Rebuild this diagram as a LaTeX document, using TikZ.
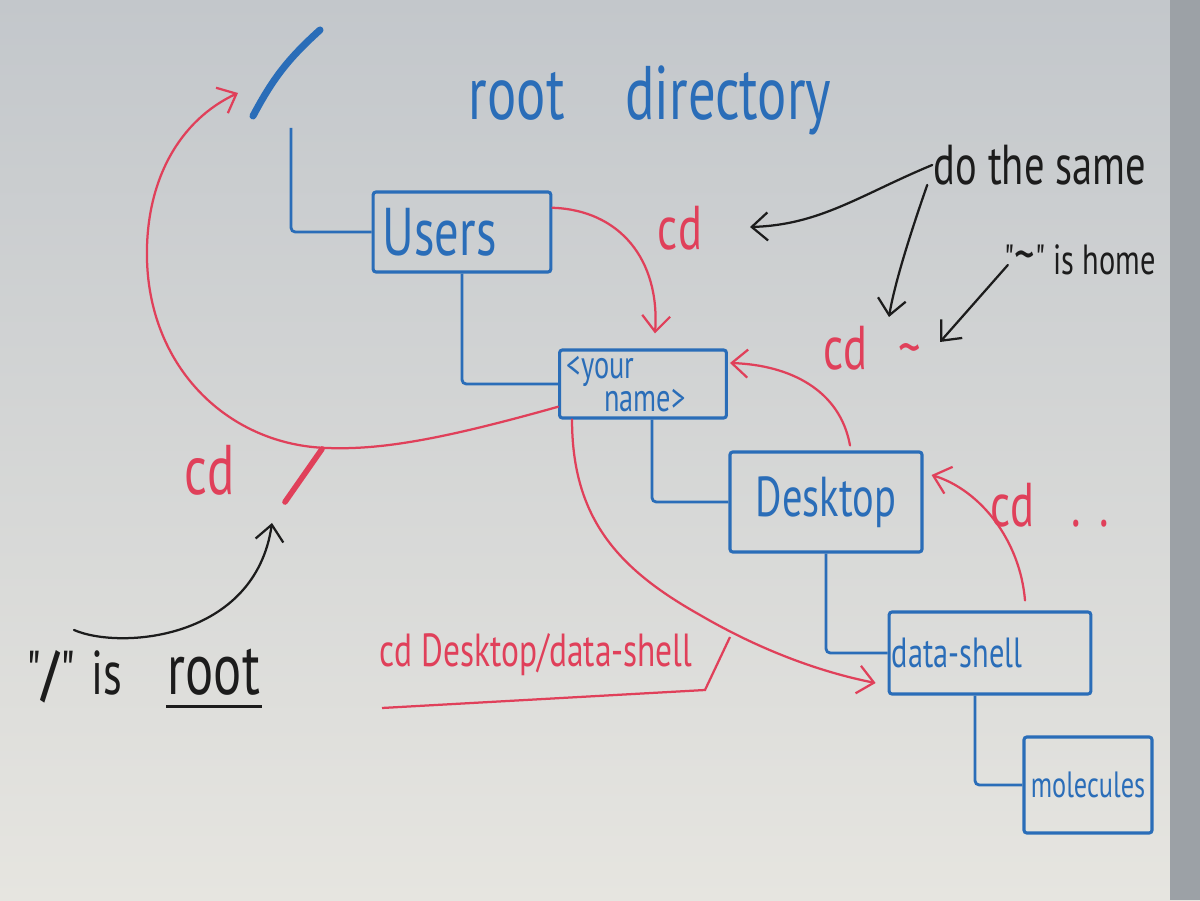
\documentclass[tikz,border=0pt]{standalone}
\usepackage{fontspec}
\newfontfamily\hand{PT Sans}[FakeStretch=0.72]
\usetikzlibrary{calc,arrows.meta}
\definecolor{boardx}{HTML}{C3C7CB}
\definecolor{boardlo}{HTML}{E6E5E0}
\definecolor{framex}{HTML}{9CA1A6}
\definecolor{bluex}{HTML}{2A6DB8}
\definecolor{redx}{HTML}{E0405A}
\definecolor{inkx}{HTML}{1C1C1C}
\tikzset{
  box/.style={draw=bluex,line width=2.2pt,rounded corners=2pt,text=bluex,align=center,inner sep=2pt},
  tree/.style={bluex,line width=2pt,rounded corners=3pt},
  ar/.style={-{Straight Barb[length=4mm,width=7mm]},line width=1.6pt,line cap=round},
  rar/.style={ar,redx},
  kar/.style={ar,inkx},
  rtxt/.style={text=redx,font=\hand\fontsize{44}{48}\selectfont,inner sep=1pt},
  ktxt/.style={text=inkx,inner sep=1pt}
}

\begin{document}
\begin{tikzpicture}[x=0.025cm,y=0.025cm]
\shade[top color=boardx,bottom color=boardlo] (0,0) rectangle (1200,900);
\fill[framex] (1170,0) rectangle (1200,900);
\useasboundingbox (0,0) rectangle (1200,900);

% the tree
\coordinate (rootlo) at (253,784);
\coordinate (roothi) at (320,870);
\coordinate (rootL) at (291,772);
\draw[bluex,line width=5pt,line cap=round] (rootlo) to[bend left=10] (roothi);
\node[font=\hand\fontsize{54}{58}\selectfont,text=bluex] (rootdir) at (650,800) {root\hspace{0.8em}directory};

\node[box,text width=4.3cm,align=left,minimum height=2cm,font=\hand\fontsize{48}{52}\selectfont] (users) at (462,668) {\hspace{0.1em}Users};
\node[box,text width=4.1cm,align=left,minimum height=1.7cm,inner sep=1pt,font=\hand\fontsize{28}{23}\selectfont] (yourname) at (643,516) {\hspace{0.15em}<your\\\hspace{1.1em}name>};
\node[box,minimum width=4.8cm,minimum height=2.5cm,font=\hand\fontsize{40}{44}\selectfont] (desktop) at (826,398) {Desktop};
\node[box,text width=4.9cm,align=left,minimum height=2.05cm,font=\hand\fontsize{30}{34}\selectfont] (datashell) at (990,247) {data-shell};
\node[box,minimum width=3.2cm,minimum height=2.4cm,font=\hand\fontsize{26}{30}\selectfont] (molecules) at (1088,115) {molecules};

\draw[tree] (rootL) |- (users.west);
\draw[tree] (users.south) |- (yourname.west);
\draw[tree] ($(yourname.south)+(9,0)$) |- (desktop.west);
\draw[tree] (desktop.south) |- (datashell.west);
\draw[tree] ($(datashell.south)+(-15,0)$) |- (molecules.west);

% cd commands
\node[rtxt] (cdusers) at (680,672) {cd};
\node[rtxt] (cdhome) at (872,552) {cd\hspace{0.5em}\textasciitilde};
\node[rtxt] (cdup) at (1050,395) {cd\hspace{0.6em}.\hspace{0.3em}.};
\node[rtxt,font=\hand\fontsize{50}{54}\selectfont] (cdroot) at (210,430) {cd};
\node[rtxt,font=\hand\fontsize{33}{36}\selectfont] (cdpath) at (536,245) {cd Desktop/data-shell};

\coordinate (slashlo) at (285,398);
\coordinate (slashhi) at (322,451);
\draw[redx,line width=4pt,line cap=round] (slashlo) -- (slashhi);
\coordinate (roottip) at (238,807);

\draw[rar] (users.15) .. controls (620,690) and (660,640) .. ($(yourname.north)+(12,15)$);
\draw[rar] (yourname.195) .. controls (440,460) and (380,450) .. (327,452)
  .. controls (230,455) and (150,530) .. (147,640) .. controls (145,720) and (180,780) .. (roottip);
\draw[rar] ($(yourname.south west)+(14,0)$) .. controls (572,380) and (620,330) .. (700,285)
  .. controls (760,250) and (820,228) .. ($(datashell.west)+(-12,-30)$);
\draw[rar] ($(desktop.north)+(24,5)$) .. controls (840,510) and (790,535) .. ($(yourname.east)+(2,21)$);
\draw[rar] ($(datashell.north)+(35,10)$) .. controls (1020,360) and (980,410) .. ($(desktop.east)+(8,27)$);

\coordinate (bendA) at (382,192);
\coordinate (bendB) at (705,210);
\coordinate (bendC) at (730,263);
\draw[redx,line width=1.6pt] (bendA) -- (bendB) -- (bendC);

% notes in black
\node[ktxt,font=\hand\fontsize{40}{44}\selectfont] (dosame) at (1040,735) {do the same};
\node[ktxt,font=\hand\fontsize{30}{34}\selectfont] (home) at (1080,640) {"{\fontsize{40}{40}\selectfont\textasciitilde}" is home};
\node[ktxt,font=\hand\fontsize{44}{48}\selectfont,anchor=base west] (quote) at (25,205) {"\textbf{/}"\hspace{0.25em}is};
\node[ktxt,font=\hand\fontsize{52}{56}\selectfont,anchor=base west] (rootword) at (166,205) {root};
\draw[inkx,line width=2pt] ([yshift=-8pt]rootword.base west) -- ([yshift=-8pt]rootword.base east);

\coordinate (sametip) at (750,673);
\coordinate (sametip2) at (889,583);
\coordinate (hometip) at (940,558);
\coordinate (rootarrow) at (74,270);
\draw[kar] (dosame.west) .. controls (860,705) and (820,675) .. (sametip);
\draw[kar] ($(dosame.west)+(-5,-20)$) .. controls (915,680) and (895,620) .. (sametip2);
\draw[kar] ($(home.west)+(5,-5)$) -- (hometip);
\draw[kar] (rootarrow) .. controls (120,250) and (255,260) .. ($(slashlo)+(-13,-21)$);
\end{tikzpicture}
\end{document}
